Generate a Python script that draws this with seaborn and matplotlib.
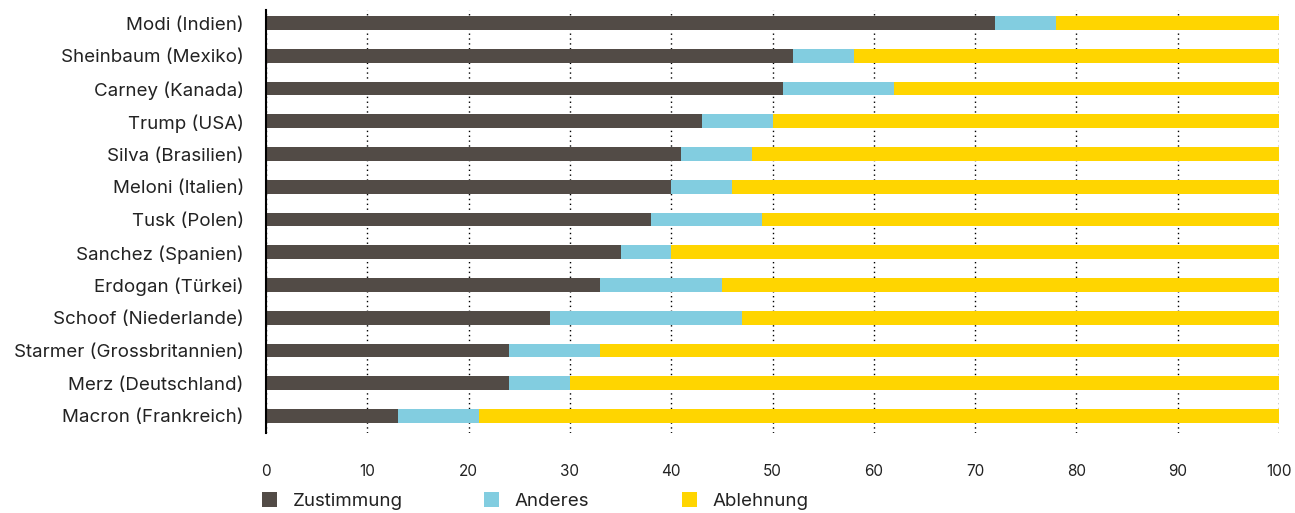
import matplotlib
matplotlib.use("Agg")
import matplotlib.pyplot as plt
from matplotlib.patches import Patch
import seaborn as sns
import pandas as pd

politiker = ["Modi (Indien)", "Sheinbaum (Mexiko)", "Carney (Kanada)", "Trump (USA)",
             "Silva (Brasilien)", "Meloni (Italien)", "Tusk (Polen)", "Sanchez (Spanien)",
             "Erdogan (Türkei)", "Schoof (Niederlande)", "Starmer (Grossbritannien)",
             "Merz (Deutschland)", "Macron (Frankreich)"]
zustimmung = [72, 52, 51, 43, 41, 40, 38, 35, 33, 28, 24, 24, 13]
anderes =    [6, 6, 11, 7, 7, 6, 11, 5, 12, 19, 9, 6, 8]
ablehnung =  [22, 42, 38, 50, 52, 54, 51, 60, 55, 53, 67, 70, 79]
serien = ["Zustimmung", "Anderes", "Ablehnung"]
farben = ["#524b46", "#82cde0", "#ffd500"]
xticks = [0, 10, 20, 30, 40, 50, 60, 70, 80, 90, 100]

df = pd.DataFrame({"name": politiker, "Zustimmung": zustimmung,
                   "Anderes": anderes, "Ablehnung": ablehnung})
df["c1"] = df["Zustimmung"]
df["c2"] = df["Zustimmung"] + df["Anderes"]
df["c3"] = df["c2"] + df["Ablehnung"]

sns.set_theme(style="white")
plt.rcParams["font.family"] = ["Inter", "DejaVu Sans"]

W, H = 1295, 513
fig = plt.figure(figsize=(W / 100, H / 100), dpi=100)
ax = fig.add_axes([266 / W, 1 - 433 / H, (1279 - 266) / W, 423 / H])

for col, c in zip(["c3", "c2", "c1"], farben[::-1]):
    sns.barplot(data=df, x=col, y="name", orient="h", color=c, width=0.42,
                linewidth=0, saturation=1, ax=ax, zorder=3)

ax.set_xlim(0, 100)
ax.set_ylim(12.52, -0.4)
ax.set_xticks(xticks)
ax.set_xticklabels([str(t) for t in xticks], fontsize=11, color="#222222")
ax.tick_params(axis="x", length=0, pad=22)
ax.tick_params(axis="y", length=0, pad=16, labelsize=13.5, labelcolor="#222222")
ax.set_xlabel("")
ax.set_ylabel("")
ax.xaxis.grid(True, linestyle=(0, (1, 2.5)), color="#000000", linewidth=1, zorder=0)
ax.yaxis.grid(False)
for s in ["top", "right", "bottom"]:
    ax.spines[s].set_visible(False)
ax.spines["left"].set_color("#000000")
ax.spines["left"].set_linewidth(1.5)
ax.spines["left"].set_zorder(5)
ax.set_axisbelow(True)

fs = 13.5
fs_px = fs * 100 / 72
leg_x = [262, 484, 682]
for x, c, l in zip(leg_x, farben, serien):
    leg = fig.legend(handles=[Patch(facecolor=c, edgecolor="none", label=l)],
                     loc="center left", bbox_to_anchor=(x / W, 1 - 501 / H),
                     frameon=False, fontsize=fs, handlelength=15 / fs_px,
                     handleheight=15 / fs_px, handletextpad=16 / fs_px,
                     borderpad=0, borderaxespad=0, labelcolor="#222222")

fig.savefig("out.png", dpi=100)
